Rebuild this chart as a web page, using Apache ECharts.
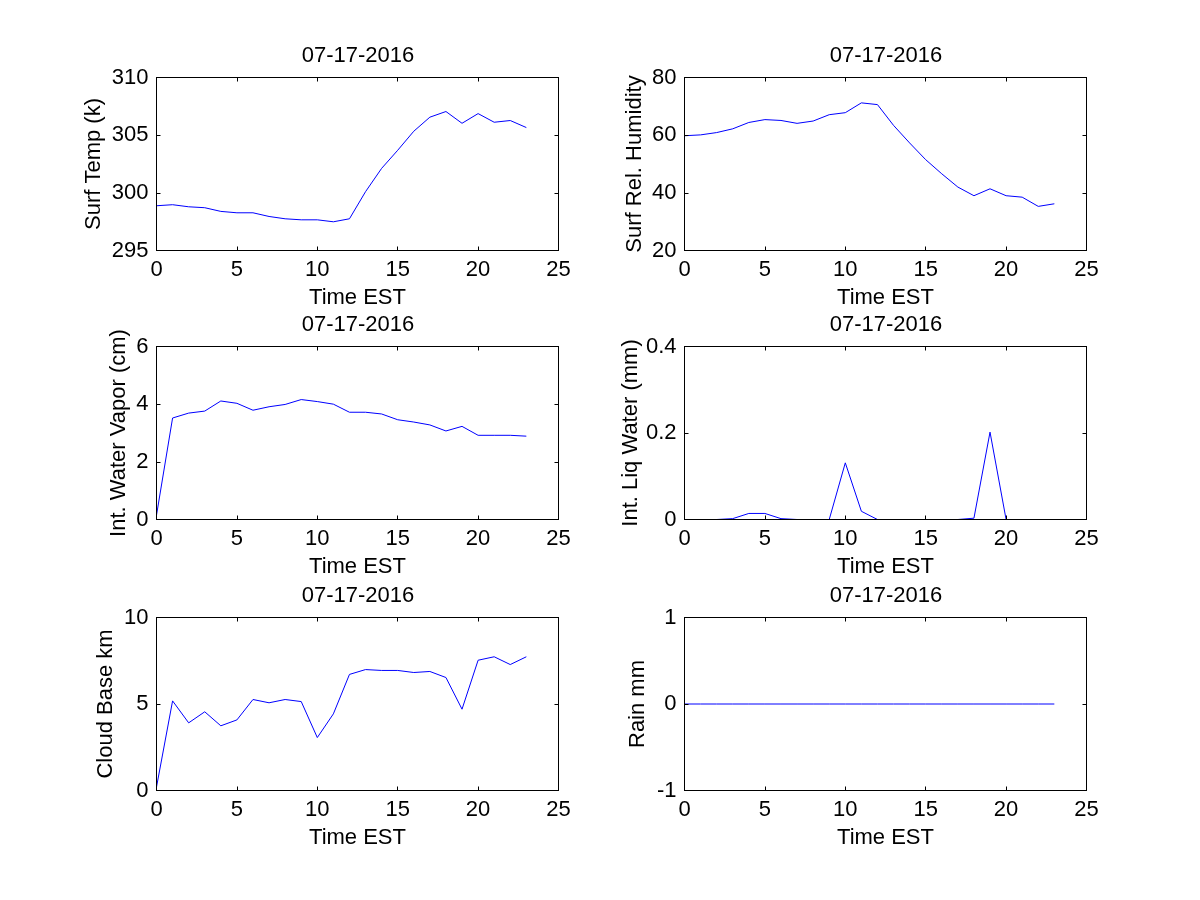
<!DOCTYPE html>
<html>
<head>
<meta charset="utf-8">
<script src="https://cdn.jsdelivr.net/npm/echarts@6/dist/echarts.min.js"></script>
<style>html,body{margin:0;padding:0;background:#fff;}#c{width:1200px;height:900px;}</style>
</head>
<body>
<div id="c"></div>
<script>
const hours = [0,1,2,3,4,5,6,7,8,9,10,11,12,13,14,15,16,17,18,19,20,21,22,23];
const dateLabel = '07-17-2016';
const xName = 'Time EST';
const surfTemp = [298.88,298.97,298.79,298.71,298.39,298.27,298.27,297.95,297.75,297.66,297.66,297.49,297.75,300.1,302.12,303.69,305.34,306.56,307.05,306.03,306.87,306.12,306.27,305.66];
const surfRH = [59.8,60.1,60.9,62.2,64.4,65.4,65.1,64.1,64.9,67.1,67.8,71.2,70.6,63.4,57.3,51.5,46.6,42.0,39.0,41.4,39.0,38.5,35.3,36.2];
const waterVapor = [0.15,3.52,3.69,3.76,4.11,4.03,3.79,3.91,3.99,4.16,4.09,4.0,3.72,3.72,3.66,3.46,3.38,3.28,3.07,3.23,2.92,2.92,2.92,2.89];
const liqWater = [0,0,0,0.002,0.014,0.014,0.002,0,0,0,0.131,0.019,0,0,0,0,0,0,0.003,0.202,0,0,0,0];
const cloudBase = [0.2,5.18,3.91,4.55,3.74,4.08,5.26,5.07,5.26,5.14,3.06,4.43,6.71,6.99,6.94,6.94,6.82,6.88,6.53,4.70,7.53,7.73,7.28,7.73];
const rain = [0,0,0,0,0,0,0,0,0,0,0,0,0,0,0,0,0,0,0,0,0,0,0,0];

const panels = [
  {name:'Surf Temp (k)', data:surfTemp, min:295, max:310, interval:5, gap:52},
  {name:'Surf Rel. Humidity', data:surfRH, min:20, max:80, interval:20, gap:39},
  {name:'Int. Water Vapor (cm)', data:waterVapor, min:0, max:6, interval:2, gap:27},
  {name:'Int. Liq Water (mm)', data:liqWater, min:0, max:0.4, interval:0.2, gap:37},
  {name:'Cloud Base km', data:cloudBase, min:0, max:10, interval:5, gap:40},
  {name:'Rain mm', data:rain, min:-1, max:1, interval:1, gap:36}
];

const FONT = 'Arial, "Liberation Sans", Helvetica, sans-serif';
const FS = 22;
const lefts = [156.5, 684.5];
const tops = [77.5, 346.5, 617.5];
const W = 402, H = 173;

const grid = [], xAxis = [], yAxis = [], series = [], title = [];
const lineSt = {show:true, onZero:false, lineStyle:{color:'#000', width:1}};
const tickStyle = {show:true, inside:true, length:4, lineStyle:{color:'#000', width:1}};
panels.forEach((p, i) => {
  const col = i % 2, row = Math.floor(i / 2);
  const L = lefts[col], T = tops[row];
  grid.push({left:L, top:T, width:W, height:H, show:false, containLabel:false});
  title.push({text:dateLabel, left:Math.round(L + W/2), top:Math.round(T - 33), textAlign:'center', padding:0,
    textStyle:{fontFamily:FONT, fontSize:FS, fontWeight:'normal', color:'#000'}});
  xAxis.push({type:'value', gridIndex:i, min:0, max:25, interval:5, position:'bottom', z:5,
    name:xName, nameLocation:'middle', nameGap:36,
    nameTextStyle:{fontFamily:FONT, fontSize:FS, color:'#000'},
    axisLine:lineSt, axisTick:tickStyle, splitLine:{show:false},
    axisLabel:{fontFamily:FONT, fontSize:FS, color:'#000', margin:8}});
  xAxis.push({type:'value', gridIndex:i, min:0, max:25, interval:5, position:'top', z:5,
    axisLine:lineSt, axisTick:tickStyle, splitLine:{show:false}, axisLabel:{show:false}});
  yAxis.push({type:'value', gridIndex:i, min:p.min, max:p.max, interval:p.interval, position:'left', z:5,
    name:p.name, nameLocation:'middle', nameGap:p.gap, nameRotate:90,
    nameTextStyle:{fontFamily:FONT, fontSize:FS, color:'#000'},
    axisLine:lineSt, axisTick:tickStyle, splitLine:{show:false},
    axisLabel:{fontFamily:FONT, fontSize:FS, color:'#000', margin:8}});
  yAxis.push({type:'value', gridIndex:i, min:p.min, max:p.max, interval:p.interval, position:'right', z:5,
    axisLine:lineSt, axisTick:tickStyle, splitLine:{show:false}, axisLabel:{show:false}});
  series.push({type:'line', xAxisIndex:2*i, yAxisIndex:2*i, showSymbol:false, symbol:'none', z:2,
    data:hours.map((h, k) => [h, p.data[k]]),
    lineStyle:{color:'#0000ff', width:1}, animation:false, silent:true});
});

const chart = echarts.init(document.getElementById('c'), null, {renderer:'canvas'});
chart.setOption({backgroundColor:'#fff', animation:false, title, grid, xAxis, yAxis, series});
</script>
</body>
</html>
